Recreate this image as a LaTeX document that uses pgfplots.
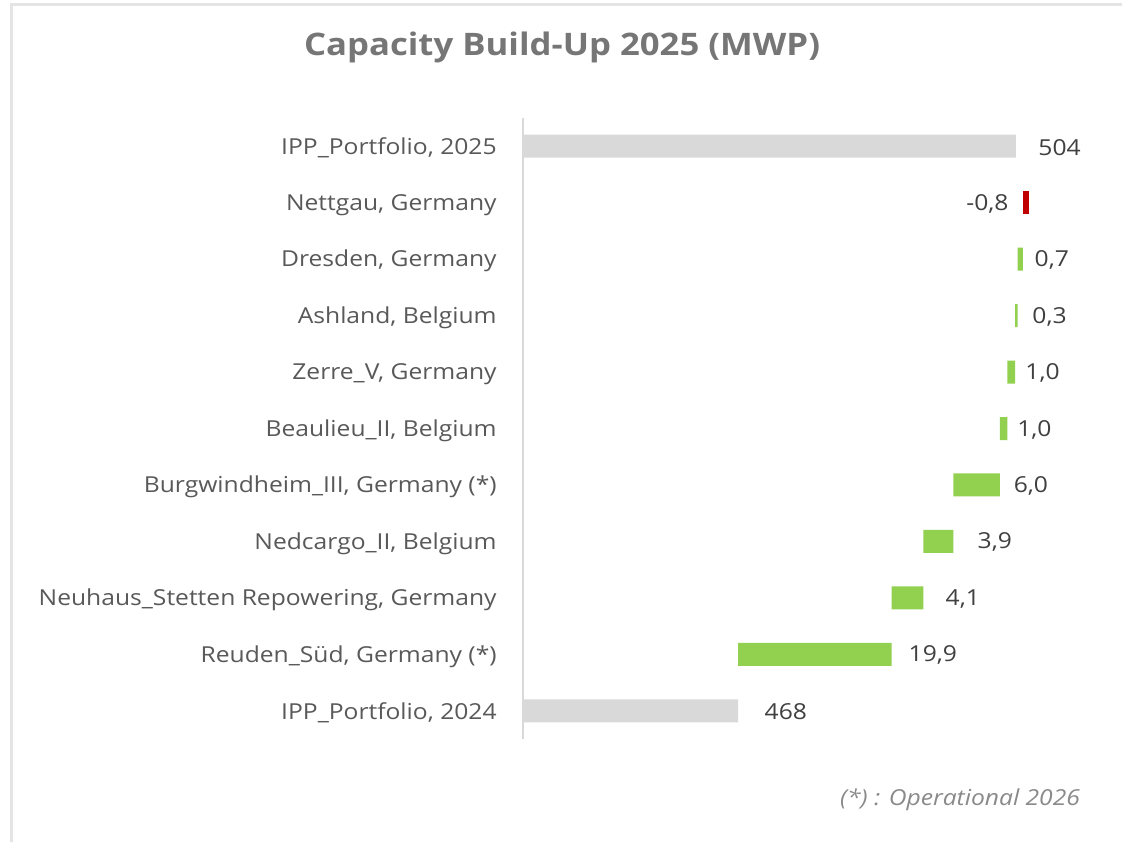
\documentclass[border=0pt]{standalone}
\usepackage{pgfplots}
\pgfplotsset{compat=1.18}
\usepackage{pgfplotstable}
\usepackage{fontspec}
\setmainfont{Open Sans}[FakeStretch=1.12]
\definecolor{barGray}{HTML}{D9D9D9}
\definecolor{barGreen}{HTML}{92D050}
\definecolor{barRed}{HTML}{C00000}
\definecolor{catText}{HTML}{595959}
\definecolor{valText}{HTML}{404040}
\definecolor{titleText}{HTML}{767676}
\definecolor{frameGray}{HTML}{E4E4E4}

% waterfall: invisible base + total / increase / decrease
\pgfplotstableread{
y  base   tot  grn   red
0  0      468  0     0
1  468    0    19.9  0
2  487.9  0    4.1   0
3  492.0  0    3.9   0
4  495.9  0    6.0   0
5  501.9  0    1.0   0
6  502.9  0    1.0   0
7  503.9  0    0.3   0
8  504.2  0    0.7   0
9  504.9  0    0     0.8
10 0      504  0     0
}\wfdata

% value labels (left edge of the text)
\pgfplotstableread{
y  lx      lab
0  471.41  468
1  490.06  19,9
2  494.85  4,1
3  499.0   3,9
4  503.68  6,0
5  504.12  1,0
6  505.18  1,0
7  506.09  0,3
8  506.38  0,7
10 506.86  504
}\poslab
\pgfplotstableread{
y  lx     lab
9  503.1  -0,8
}\neglab

\pgfplotsset{wfaxis/.style={at={(261.5pt,51.5pt)},anchor=south west,scale only axis,
  width=289.5pt,height=310.5pt,xmin=440.15,xmax=515.15,ymin=-0.5,ymax=10.5}}

\begin{document}
\begin{tikzpicture}
\useasboundingbox (0,0) rectangle (561pt,421pt);
\fill[white] (0,0) rectangle (561pt,421pt);
\draw[frameGray,line width=1.5pt] (5.5pt,0) -- (5.5pt,418.5pt) -- (561pt,418.5pt);
\node[font=\fontsize{15.5}{18}\selectfont\bfseries,text=titleText] at (281pt,397.5pt) {Capacity Build-Up 2025 (MWP)};
\node[anchor=east,font=\fontsize{11}{13}\selectfont\itshape,text=titleText!85!white] at (543.5pt,21pt) {(*) : Operational 2026};
\begin{axis}[wfaxis,xbar stacked,bar width=11.5pt,
  axis lines*=left,x axis line style={draw=none},
  y axis line style={draw=barGray,line width=1pt,-},
  xtick=\empty,ytick={0,...,10},major tick length=0pt,
  yticklabels={{IPP\_Portfolio, 2024},{Reuden\_Süd, Germany (*)},{Neuhaus\_Stetten Repowering, Germany},
    {Nedcargo\_II, Belgium},{Burgwindheim\_III, Germany (*)},{Beaulieu\_II, Belgium},{Zerre\_V, Germany},
    {Ashland, Belgium},{Dresden, Germany},{Nettgau, Germany},{IPP\_Portfolio, 2025}},
  yticklabel style={anchor=east,inner sep=0pt,xshift=-13pt,yshift=-1pt,text=catText,font=\fontsize{11}{13}\selectfont},
  ]
\addplot[draw=none,fill=none] table[x=base,y=y] {\wfdata};
\addplot[draw=none,fill=barGray] table[x=tot,y=y] {\wfdata};
\addplot[draw=none,fill=barGreen] table[x=grn,y=y] {\wfdata};
\addplot[draw=none,fill=barRed] table[x=red,y=y] {\wfdata};
\end{axis}
\begin{axis}[wfaxis,hide axis,clip=false,
  every node near coord/.append style={inner sep=0pt,yshift=-0.5pt,text=valText,font=\fontsize{11}{13}\selectfont}]
\addplot[only marks,mark=none,nodes near coords,point meta=explicit symbolic,
  every node near coord/.append style={anchor=west}] table[x=lx,y=y,meta=lab] {\poslab};
\addplot[only marks,mark=none,nodes near coords,point meta=explicit symbolic,
  every node near coord/.append style={anchor=east}] table[x=lx,y=y,meta=lab] {\neglab};
\end{axis}
\end{tikzpicture}
\end{document}
